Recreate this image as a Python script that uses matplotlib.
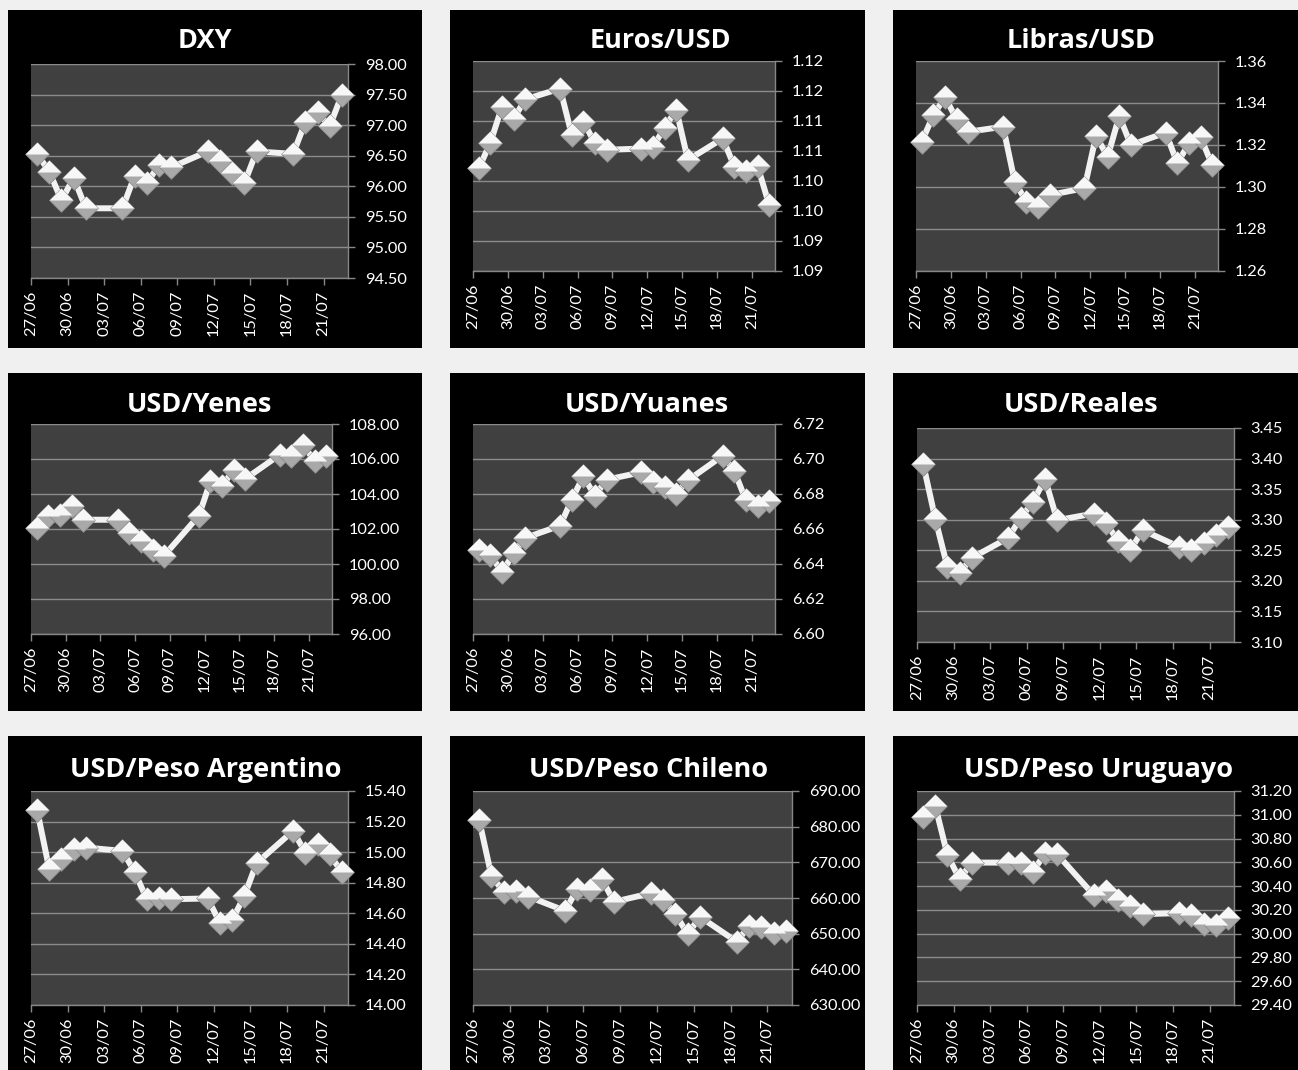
import pandas as pd
import matplotlib
matplotlib.use("Agg")
import matplotlib.pyplot as plt
import matplotlib.dates as mdates
from matplotlib.patches import Rectangle
from matplotlib.path import Path
from matplotlib.ticker import FuncFormatter, MultipleLocator
from decimal import Decimal, ROUND_HALF_UP

plt.rcParams['font.family'] = ['Lato', 'DejaVu Sans']

# cotizaciones diarias 27/06 - 22/07
fechas = pd.to_datetime([
    '2016-06-27', '2016-06-28', '2016-06-29', '2016-06-30', '2016-07-01',
    '2016-07-04', '2016-07-05', '2016-07-06', '2016-07-07', '2016-07-08',
    '2016-07-11', '2016-07-12', '2016-07-13', '2016-07-14', '2016-07-15',
    '2016-07-18', '2016-07-19', '2016-07-20', '2016-07-21', '2016-07-22'])

dxy = [96.53, 96.24, 95.77, 96.14, 95.64, 95.64, 96.17, 96.05, 96.35, 96.31,
       96.57, 96.42, 96.22, 96.05, 96.57, 96.53, 97.05, 97.21, 96.98, 97.50]
eur = [1.1021, 1.1064, 1.1124, 1.1104, 1.1136, 1.1154, 1.1077, 1.1099, 1.1063, 1.1052,
       1.1054, 1.1057, 1.1089, 1.1119, 1.1035, 1.1071, 1.1024, 1.1016, 1.1025, 1.0960]
gbp = [1.3216, 1.3343, 1.3427, 1.3322, 1.3263, 1.3287, 1.3025, 1.2930, 1.2906, 1.2962,
       1.2994, 1.3243, 1.3144, 1.3338, 1.3200, 1.3259, 1.3113, 1.3208, 1.3237, 1.3105]
jpy = [102.06, 102.72, 102.82, 103.30, 102.53, 102.53, 101.77, 101.30, 100.82, 100.48,
       102.76, 104.72, 104.44, 105.39, 104.86, 106.25, 106.15, 106.82, 105.87, 106.19]
cny = [6.6478, 6.6453, 6.6352, 6.6463, 6.6549, 6.6619, 6.6768, 6.6901, 6.6790, 6.6882,
       6.6924, 6.6867, 6.6840, 6.6802, 6.6878, 6.7019, 6.6930, 6.6764, 6.6730, 6.6758]
brl = [3.3918, 3.3014, 3.2225, 3.2132, 3.2377, 3.2704, 3.3030, 3.3286, 3.3667, 3.2992,
       3.3101, 3.2949, 3.2649, 3.2502, 3.2829, 3.2557, 3.2502, 3.2611, 3.2742, 3.2883]
ars = [15.276, 14.888, 14.954, 15.019, 15.030, 15.008, 14.871, 14.692, 14.697, 14.692,
       14.697, 14.536, 14.555, 14.714, 14.928, 15.139, 14.997, 15.052, 14.986, 14.867]
clp = [681.88, 666.21, 661.73, 662.01, 660.42, 656.41, 662.47, 662.29, 665.27, 658.93,
       661.35, 659.49, 655.48, 649.88, 654.73, 647.73, 652.21, 651.74, 650.16, 650.81]
uyu = [30.984, 31.074, 30.660, 30.458, 30.598, 30.598, 30.598, 30.520, 30.677, 30.668,
       30.324, 30.360, 30.285, 30.229, 30.164, 30.173, 30.156, 30.080, 30.072, 30.128]

titulos = ['DXY', 'Euros/USD', 'Libras/USD',
           'USD/Yenes', 'USD/Yuanes', 'USD/Reales',
           'USD/Peso Argentino', 'USD/Peso Chileno', 'USD/Peso Uruguayo']
series = [dxy, eur, gbp, jpy, cny, brl, ars, clp, uyu]
escalas = [(94.5, 98.0, 0.5), (1.085, 1.12, 0.005), (1.26, 1.36, 0.02),
           (96, 108, 2), (6.60, 6.72, 0.02), (3.10, 3.45, 0.05),
           (14.0, 15.4, 0.2), (630, 690, 10), (29.4, 31.2, 0.2)]

W, H = 1298, 1070
cols = [(8, 422), (450, 865), (893, 1298)]
rows = [(10, 348), (373, 711), (736, 1070)]
areas = [(31, 64, 348, 278), (473, 61, 775, 271), (916, 61, 1218, 271),
         (31, 424, 332, 634), (473, 424, 775, 634), (917, 428, 1234, 642),
         (31, 791, 348, 1005), (473, 791, 792, 1005), (917, 791, 1234, 1005)]
tit_x = [205, 660, 1081, 199, 647, 1081, 206, 649, 1099]
tit_y = [48, 48, 48, 412, 412, 412, 777, 777, 777]

fig = plt.figure(figsize=(W / 100, H / 100), dpi=100, facecolor='#f0f0f0')

for r in rows:
    for c in cols:
        fig.patches.append(Rectangle((c[0] / W, 1 - r[1] / H), (c[1] - c[0]) / W,
                                     (r[1] - r[0]) / H, transform=fig.transFigure,
                                     facecolor='black', edgecolor='none', zorder=-5))

diamante = Path([(0, 1), (1, 0), (0, -1), (-1, 0), (0, 1)])
mitad = Path([(-1, 0), (0, 1), (1, 0), (-1, 0)])


def fmt2(v, pos):
    return str(Decimal(str(round(v, 6))).quantize(Decimal('0.01'), rounding=ROUND_HALF_UP))


x = fechas + pd.Timedelta(hours=12)
ticks = pd.date_range('2016-06-27', '2016-07-21', freq='3D')
gris = '#878787'

for i in range(9):
    x0, y0, x1, y1 = areas[i]
    ax = fig.add_axes([x0 / W, 1 - y1 / H, (x1 - x0) / W, (y1 - y0) / H], zorder=2)
    ax.set_facecolor('#404040')
    lo, hi, paso = escalas[i]
    y = series[i]

    ax.plot(x, y, color='#f2f2f2', lw=4.3, zorder=3, clip_on=False,
            solid_joinstyle='miter')
    ax.plot(x, y, ls='none', marker=diamante, ms=17, mfc='#a9a9a9', mec='#8a8a8a',
            mew=0.6, zorder=4, clip_on=False)
    ax.plot(x, y, ls='none', marker=mitad, ms=17, mfc='#f7f7f7', mec='none',
            zorder=5, clip_on=False)

    ax.set_ylim(lo, hi)
    ax.yaxis.set_major_locator(MultipleLocator(paso))
    ax.yaxis.set_major_formatter(FuncFormatter(fmt2))
    ax.set_xlim(pd.Timestamp('2016-06-27'), pd.Timestamp('2016-07-23'))
    ax.set_xticks(ticks)
    ax.xaxis.set_major_formatter(mdates.DateFormatter('%d/%m'))

    ax.yaxis.tick_right()
    ax.grid(axis='y', color='#8c8c8c', lw=1)
    ax.set_axisbelow(True)
    for s in ['left', 'top']:
        ax.spines[s].set_visible(False)
    for s in ['right', 'bottom']:
        ax.spines[s].set_color(gris)
        ax.spines[s].set_linewidth(1)
    ax.tick_params(axis='y', colors=gris, labelcolor='white', length=5, width=1,
                   labelsize=11.8, pad=7)
    ax.tick_params(axis='x', colors=gris, labelcolor='white', length=5, width=1,
                   labelsize=11.8, pad=4, labelrotation=90)

    fig.text(tit_x[i] / W, 1 - tit_y[i] / H, titulos[i], color='white',
             fontsize=19.5, fontweight='bold', ha='center', va='baseline',
             family=['Open Sans', 'DejaVu Sans'], zorder=3)

fig.savefig('out.png', dpi=100, facecolor=fig.get_facecolor())
